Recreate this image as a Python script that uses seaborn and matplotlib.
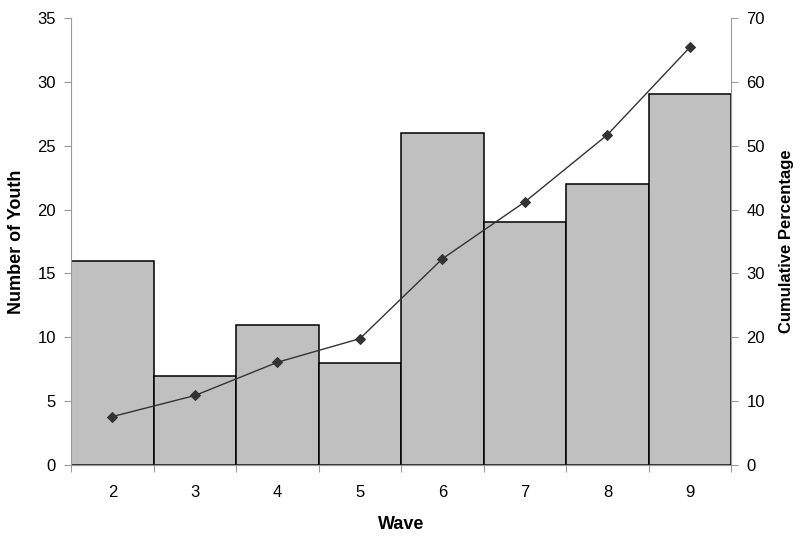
import matplotlib
matplotlib.use("Agg")
import matplotlib.pyplot as plt
import numpy as np
import pandas as pd
import seaborn as sns

waves = [2, 3, 4, 5, 6, 7, 8, 9]
youth_counts = [16, 7, 11, 8, 26, 19, 22, 29]
cumulative_pct = [7.6, 10.9, 16.1, 19.8, 32.3, 41.2, 51.7, 65.4]

df = pd.DataFrame({"Wave": waves, "Youth": youth_counts, "Cumulative": cumulative_pct})

sns.set_theme(style="white")
plt.rcParams["font.family"] = ["Liberation Sans Narrow", "Liberation Sans", "DejaVu Sans"]
plt.rcParams["text.color"] = "black"
plt.rcParams["axes.labelcolor"] = "black"

fig = plt.figure(figsize=(8, 5.39), dpi=100)
ax = fig.add_axes([0.089, 0.137, 0.825, 0.83])

sns.barplot(data=df, x="Wave", y="Youth", ax=ax, color="#c0c0c0", width=1.0,
            edgecolor="black", linewidth=1.1, saturation=1)

ax2 = ax.twinx()
sns.pointplot(data=df, x="Wave", y="Cumulative", ax=ax2, color="#333333",
              markers="D", markersize=5, linewidth=1.0)

n = len(waves)
ax.set_xlim(-0.5, n - 0.5)
ax.set_ylim(0, 35)
ax.set_yticks(np.arange(0, 36, 5))
ax2.set_ylim(0, 70)
ax2.set_yticks(np.arange(0, 71, 10))

axis_grey = "#9a9a9a"
for a in (ax, ax2):
    a.spines["top"].set_visible(False)
    for s in ("left", "right", "bottom"):
        a.spines[s].set_color(axis_grey)
        a.spines[s].set_linewidth(0.8)
    a.set_xlabel("")
    a.set_ylabel("")

ax.spines["right"].set_visible(False)
ax2.spines["left"].set_visible(False)

# tick marks at bar boundaries, labels at bar centres
ax.set_xticks(np.arange(n))
ax.set_xticklabels([str(w) for w in waves])
ax.set_xticks(np.arange(-0.5, n, 1.0), minor=True)
ax.tick_params(axis="x", which="major", length=0, pad=14, labelsize=12, labelcolor="black")
ax.tick_params(axis="x", which="minor", length=5, direction="out", color=axis_grey, width=0.8, bottom=True)
ax.tick_params(axis="y", length=5, direction="out", color=axis_grey, width=0.8, labelsize=12,
               left=True, pad=6, labelcolor="black")
ax2.tick_params(axis="y", length=5, direction="out", color=axis_grey, width=0.8, labelsize=12,
                right=True, pad=6, labelcolor="black")

ax.set_ylabel("Number of Youth", fontsize=13, fontweight="bold", family="Liberation Sans", labelpad=9)
ax2.set_ylabel("Cumulative Percentage", fontsize=12, fontweight="bold", family="Liberation Sans", labelpad=10)
ax.set_xlabel("Wave", fontsize=13, fontweight="bold", family="Liberation Sans", labelpad=12)

fig.savefig("out.png", dpi=100)
